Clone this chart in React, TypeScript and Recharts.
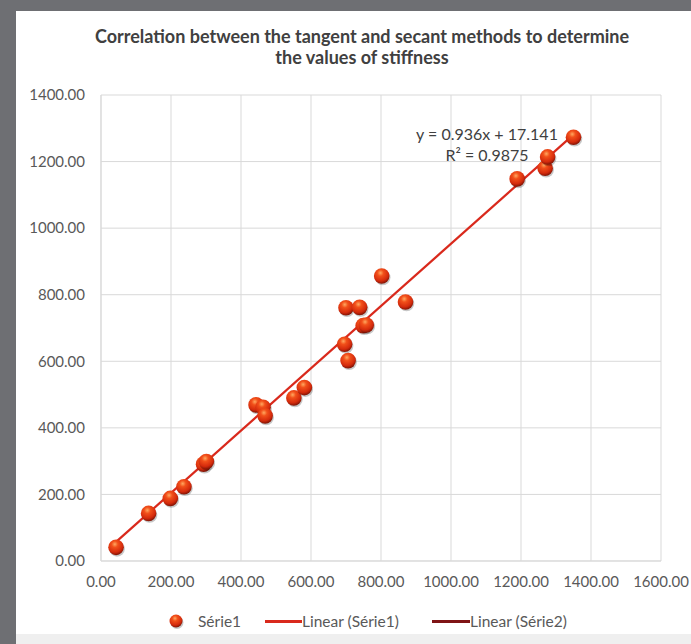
import React from "react";
import { ScatterChart, Scatter, XAxis, YAxis, CartesianGrid } from "recharts";

// tangent method (x) vs secant method (y)
const tangent = [43, 136, 198, 237, 293, 301, 443, 463, 469, 551, 581, 696, 706, 749, 758, 700, 739, 802, 870, 1189, 1269, 1276, 1350];
const secant = [41, 143, 188, 223, 291, 299, 469, 462, 436, 490, 521, 651, 602, 707, 709, 761, 762, 856, 778, 1148, 1180, 1214, 1273];

const xTicks = [0, 200, 400, 600, 800, 1000, 1200, 1400, 1600];
const yTicks = [0, 200, 400, 600, 800, 1000, 1200, 1400];

const slope = 0.936;
const intercept = 17.141;
const rSquared = "0.9875";

const points = tangent.map((x, i) => ({ x, y: secant[i] }));
const xMin = Math.min(...tangent);
const xMax = Math.max(...tangent);
const trend = [
  { x: xMin, y: slope * xMin + intercept },
  { x: xMax, y: slope * xMax + intercept },
];

const FONT = "Lato, 'Open Sans', sans-serif";
const TEXT = "#595959";
const RED = "#d9291c";
const DARK_RED = "#7f1416";

function Ball({ cx, cy, r = 7.8, id }: { cx: number; cy: number; r?: number; id: string }) {
  return (
    <g>
      <defs>
        <radialGradient id={id} cx="42%" cy="30%" r="72%">
          <stop offset="0%" stopColor="#ffa860" />
          <stop offset="28%" stopColor="#f2501a" />
          <stop offset="72%" stopColor="#d42a0c" />
          <stop offset="100%" stopColor="#761205" />
        </radialGradient>
      </defs>
      <circle cx={cx + 1} cy={cy + 1.5} r={r} fill="rgba(0,0,0,0.22)" />
      <circle cx={cx} cy={cy} r={r} fill={`url(#${id})`} />
    </g>
  );
}

const renderBall = (props: any) => (
  <Ball cx={props.cx} cy={props.cy} id={`ball-${props.index}`} />
);

export default function App() {
  return (
    <div
      style={{
        position: "absolute",
        left: 0,
        top: 0,
        width: 691,
        height: 644,
        background: "#6e6f73",
        fontFamily: FONT,
        overflow: "hidden",
      }}
    >
      <div style={{ position: "absolute", left: 16, top: 11, width: 675, height: 623, background: "#ffffff" }} />
      <div style={{ position: "absolute", left: 16, top: 634, width: 675, height: 10, background: "#efefef" }} />

      <div
        style={{
          position: "absolute",
          left: 32,
          width: 660,
          top: 26,
          textAlign: "center",
          fontSize: 18,
          fontWeight: 700,
          lineHeight: "21px",
          color: "#404040",
          whiteSpace: "nowrap",
        }}
      >
        Correlation between the tangent and secant methods to determine
        <br />
        the values of stiffness
      </div>

      <div style={{ position: "absolute", left: 0, top: 0 }}>
        <ScatterChart width={691} height={644} margin={{ top: 95, right: 30, bottom: 53, left: 16 }}>
          <CartesianGrid stroke="#d9d9d9" strokeWidth={1} />
          <XAxis
            type="number"
            dataKey="x"
            domain={[0, 1600]}
            ticks={xTicks}
            height={30}
            tickFormatter={(v: number) => v.toFixed(2)}
            tick={{ fill: TEXT, fontSize: 15, fontFamily: FONT }}
            tickLine={false}
            tickMargin={9}
            axisLine={{ stroke: "#d9d9d9" }}
            interval={0}
          />
          <YAxis
            type="number"
            dataKey="y"
            domain={[0, 1400]}
            ticks={yTicks}
            width={85}
            tickFormatter={(v: number) => v.toFixed(2)}
            tick={{ fill: TEXT, fontSize: 15, fontFamily: FONT }}
            tickLine={false}
            tickMargin={10}
            axisLine={{ stroke: "#d9d9d9" }}
            interval={0}
          />
          <Scatter
            data={trend}
            line={{ stroke: RED, strokeWidth: 2.25 }}
            shape={() => <g />}
            isAnimationActive={false}
          />
          <Scatter data={points} shape={renderBall} isAnimationActive={false} />
        </ScatterChart>
      </div>

      <div
        style={{
          position: "absolute",
          left: 387,
          width: 200,
          top: 123,
          textAlign: "center",
          fontSize: 16,
          lineHeight: "21px",
          color: "#404040",
        }}
      >
        y = {slope}x + {intercept}
        <br />
        R² = {rSquared}
      </div>

      <div
        style={{
          position: "absolute",
          left: 0,
          top: 611,
          width: 691,
          height: 20,
          fontSize: 15.5,
          lineHeight: "20px",
          color: TEXT,
        }}
      >
        <svg width={20} height={20} style={{ position: "absolute", left: 166, top: 0 }}>
          <Ball cx={10} cy={10} r={6.5} id="ball-legend" />
        </svg>
        <span style={{ position: "absolute", left: 198, top: 0 }}>Série1</span>
        <div style={{ position: "absolute", left: 265, top: 9, width: 37, height: 3, background: RED }} />
        <span style={{ position: "absolute", left: 302, top: 0 }}>Linear (Série1)</span>
        <div style={{ position: "absolute", left: 432, top: 9, width: 38, height: 3, background: DARK_RED }} />
        <span style={{ position: "absolute", left: 470, top: 0 }}>Linear (Série2)</span>
      </div>
    </div>
  );
}
